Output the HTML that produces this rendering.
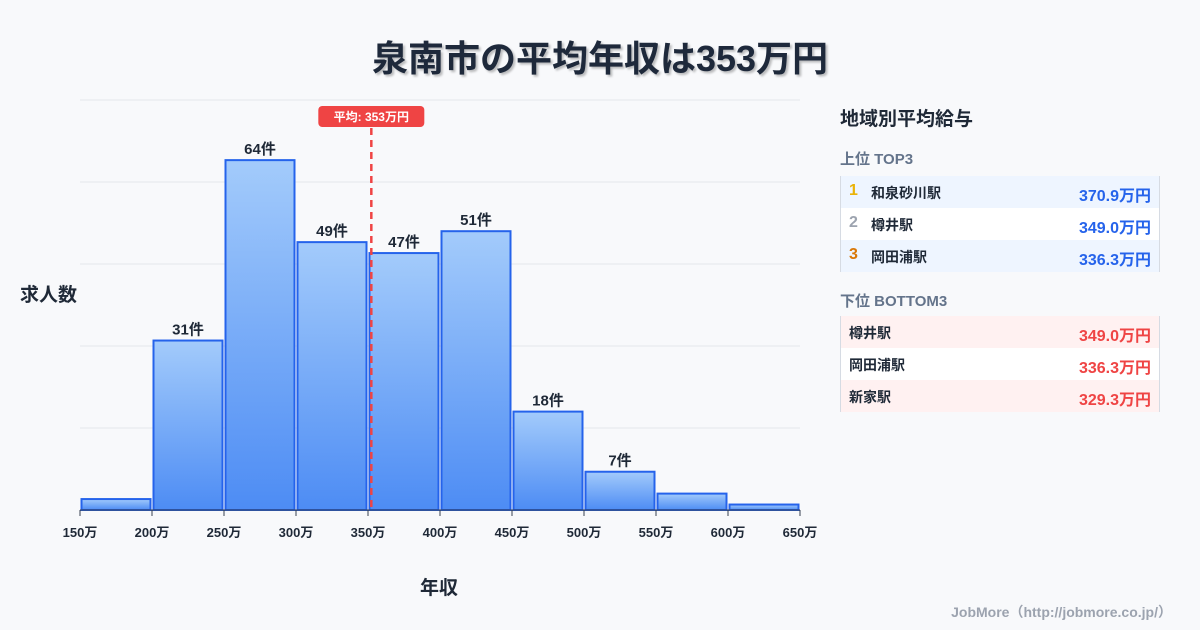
<!DOCTYPE html>
<html><head><meta charset="utf-8"><style>
body{margin:0;width:1200px;height:630px;background:#f8f9fb;font-family:"Liberation Sans","Noto Sans CJK JP",sans-serif;overflow:hidden;position:relative;color:#1f2937}
.t{position:absolute}
.row{position:absolute;left:840px;width:320px;height:32px;border-left:1px solid #d6dbe3;border-right:1px solid #d6dbe3;box-sizing:border-box;font-size:14px;font-weight:bold}
.row span{position:absolute;top:7px}
.row span.n{font-size:16px;top:6px}
</style></head><body>
<div class="t" style="left:0;width:1200px;top:30px;text-align:center;font-size:36px;font-weight:bold;color:#1e293b;text-shadow:2px 2px 2px rgba(0,0,0,0.25)">泉南市の平均年収は353万円</div>
<svg id="ch" width="1200" height="630" style="position:absolute;left:0;top:0">
<defs><linearGradient id="g" x1="0" y1="0" x2="0" y2="1"><stop offset="0" stop-color="#a3cbfb"/><stop offset="1" stop-color="#4d8cf4"/></linearGradient></defs>
</svg>
<div class="t" style="left:20px;top:280px;font-size:19px;font-weight:bold">求人数</div>
<div class="t" style="left:420px;top:573px;font-size:19px;font-weight:bold">年収</div>
<div class="t" style="left:840px;top:104px;font-size:19px;font-weight:bold">地域別平均給与</div>
<div class="t" style="left:840px;top:148px;font-size:15px;font-weight:bold;color:#64748b">上位 TOP3</div>
<div class="row" style="top:176px;background:#eef5ff"><span class="n" style="left:8px;color:#eab308">1</span><span style="left:30px">和泉砂川駅</span><span style="right:8px;color:#2563eb;font-size:16px;top:6px">370.9万円</span></div>
<div class="row" style="top:208px;background:#fff"><span class="n" style="left:8px;color:#9ca3af">2</span><span style="left:30px">樽井駅</span><span style="right:8px;color:#2563eb;font-size:16px;top:6px">349.0万円</span></div>
<div class="row" style="top:240px;background:#eef5ff"><span class="n" style="left:8px;color:#d97706">3</span><span style="left:30px">岡田浦駅</span><span style="right:8px;color:#2563eb;font-size:16px;top:6px">336.3万円</span></div>
<div class="t" style="left:840px;top:290px;font-size:15px;font-weight:bold;color:#64748b">下位 BOTTOM3</div>
<div class="row" style="top:316px;background:#fff1f1"><span style="left:8px">樽井駅</span><span style="right:8px;color:#ef4444;font-size:16px;top:6px">349.0万円</span></div>
<div class="row" style="top:348px;background:#fff"><span style="left:8px">岡田浦駅</span><span style="right:8px;color:#ef4444;font-size:16px;top:6px">336.3万円</span></div>
<div class="row" style="top:380px;background:#fff1f1"><span style="left:8px">新家駅</span><span style="right:8px;color:#ef4444;font-size:16px;top:6px">329.3万円</span></div>
<div class="t" style="right:28px;top:602px;font-size:14px;font-weight:bold;color:#9ca3af">JobMore（http://jobmore.co.jp/）</div>
<script>
const binStarts=[150,200,250,300,350,400,450,500,550,600];
const counts=[2,31,64,49,47,51,18,7,3,1];
const ticks=[150,200,250,300,350,400,450,500,550,600,650];
const gridVals=[0,15,30,45,60,75];
const meanVal=353;
const binW=50;
const X=v=>80+(v-150)*720/500;
const Y=c=>510-c*410/75;
const s=document.getElementById('ch');
const NS='http://www.w3.org/2000/svg';
function mk(t,a){const e=document.createElementNS(NS,t);for(const k in a)e.setAttribute(k,a[k]);s.appendChild(e);return e;}
gridVals.forEach(g=>{const l=mk('line',{x1:80,x2:800,y1:Y(g),y2:Y(g),stroke:'#e5e7eb','stroke-width':1});

});
binStarts.forEach((b,i)=>{
 const x0=X(b)+1.5,x1=X(b+binW)-1.5,y=Y(counts[i]);
 const r=mk('rect',{x:x0,y:y,width:x1-x0,height:510-y,fill:'url(#g)',stroke:'#2563eb','stroke-width':2});
 
 
 if(counts[i]>=5){const t=mk('text',{x:(x0+x1)/2,y:y-6,'text-anchor':'middle','font-size':15,'font-weight':'bold',fill:'#1f2937'});t.textContent=counts[i]+'件';
 
 }
});
mk('line',{x1:80,x2:800,y1:510,y2:510,stroke:'#374151','stroke-width':1});
ticks.forEach(v=>{mk('line',{x1:X(v),x2:X(v),y1:510,y2:516,stroke:'#374151','stroke-width':1});
 const t=mk('text',{x:X(v),y:537,'text-anchor':'middle','font-size':13,'font-weight':'bold',fill:'#1f2937'});t.textContent=v+'万';
 
 });
const mx=X(meanVal)-1;
const ml=mk('line',{x1:mx,x2:mx,y1:128,y2:510,stroke:'#ef4444','stroke-width':2.5,'stroke-dasharray':'7,5'});


const mr=mk('rect',{x:mx-53,y:106,width:106,height:21,rx:4,fill:'#ef4444'});


const mt=mk('text',{x:mx,y:121,'text-anchor':'middle','font-size':12,'font-weight':'bold',fill:'#fff'});mt.textContent='平均: '+meanVal+'万円';


</script>
</body></html>
